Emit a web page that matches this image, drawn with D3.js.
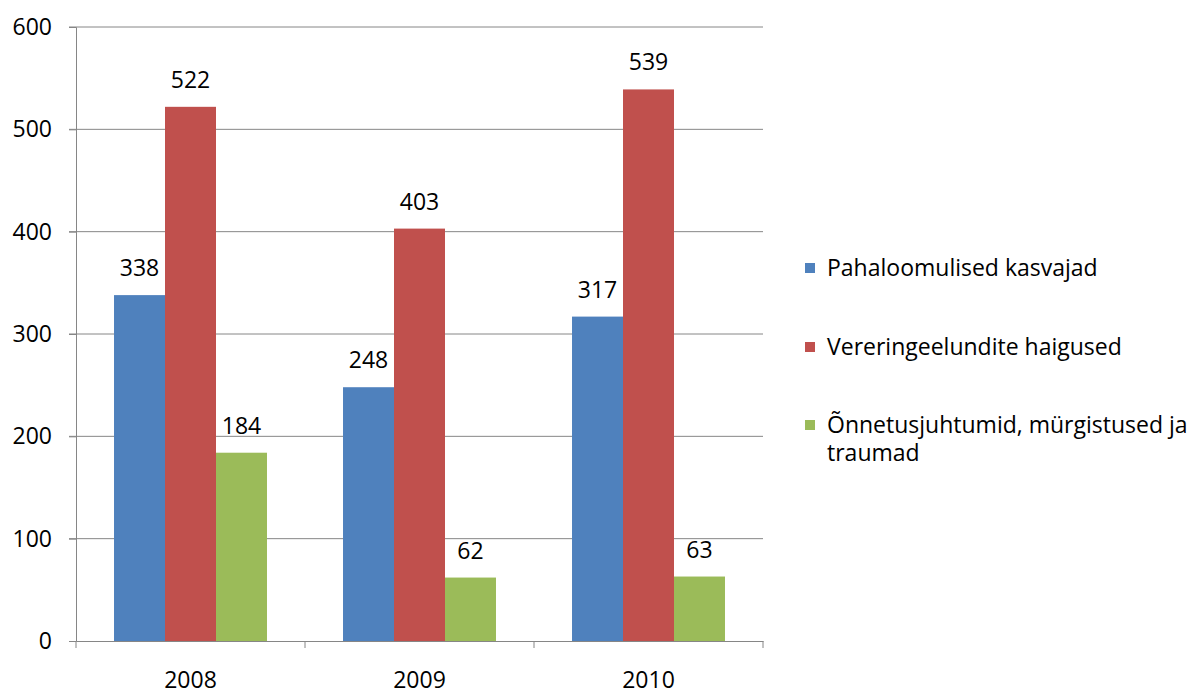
<!DOCTYPE html>
<html>
<head>
<meta charset="utf-8">
<script src="https://cdn.jsdelivr.net/npm/d3@7"></script>
<style>
body { margin: 0; background: #fff; }
svg { display: block; font-family: "Open Sans", sans-serif; }
</style>
</head>
<body>
<script>
var years = ["2008", "2009", "2010"];
var seriesNames = ["Pahaloomulised kasvajad", "Vereringeelundite haigused", "Õnnetusjuhtumid, mürgistused ja traumad"];
var pahaloomulised = [338, 248, 317];
var vereringe = [522, 403, 539];
var onnetused = [184, 62, 63];
var yTicks = [0, 100, 200, 300, 400, 500, 600];
var colors = ["#4f81bd", "#c0504d", "#9bbb59"];

var seriesValues = [pahaloomulised, vereringe, onnetused];
var width = 1191, height = 692;
var margin = { top: 27, left: 76, right: 428, bottom: 51 };
var plotW = width - margin.left - margin.right;
var plotH = height - margin.top - margin.bottom;
var fs = 23;

var svg = d3.select("body").append("svg")
	.attr("width", width)
	.attr("height", height);

var g = svg.append("g")
	.attr("transform", "translate(" + margin.left + "," + margin.top + ")");

var x0 = d3.scaleBand().domain(years).range([0, plotW]).padding(0);
var gap = x0.bandwidth() * 0.332;
var x1 = d3.scaleBand().domain(d3.range(seriesNames.length))
	.range([gap / 2, x0.bandwidth() - gap / 2]).padding(0);
var y = d3.scaleLinear().domain([0, 600]).range([plotH, 0]);

// gridlines
g.selectAll(".grid")
	.data(yTicks.slice(1))
	.enter().append("line")
	.attr("x1", -7).attr("x2", plotW)
	.attr("y1", function (d) { return y(d); })
	.attr("y2", function (d) { return y(d); })
	.attr("stroke", "#868686").attr("stroke-width", 1);

// y axis
var yAxis = g.append("g")
	.call(d3.axisLeft(y).tickValues(yTicks).tickSize(7).tickPadding(17));
yAxis.select(".domain").attr("stroke", "#868686");
yAxis.selectAll(".tick line").attr("stroke", "#868686");
yAxis.selectAll("text").attr("font-size", fs).attr("fill", "#000")
	.attr("font-family", "Open Sans");

// bars
var groups = g.selectAll(".year")
	.data(years)
	.enter().append("g")
	.attr("transform", function (d) { return "translate(" + x0(d) + ",0)"; });

groups.selectAll("rect")
	.data(function (d, i) { return seriesValues.map(function (s, k) { return { k: k, v: s[i] }; }); })
	.enter().append("rect")
	.attr("x", function (d) { return x1(d.k); })
	.attr("width", x1.bandwidth())
	.attr("y", function (d) { return y(d.v); })
	.attr("height", function (d) { return plotH - y(d.v); })
	.attr("fill", function (d) { return colors[d.k]; });

groups.selectAll(".lbl")
	.data(function (d, i) { return seriesValues.map(function (s, k) { return { k: k, v: s[i] }; }); })
	.enter().append("text")
	.attr("class", "lbl")
	.attr("x", function (d) { return x1(d.k) + x1.bandwidth() / 2; })
	.attr("y", function (d) { return y(d.v) - 19; })
	.attr("text-anchor", "middle")
	.attr("font-size", fs)
	.attr("fill", "#000")
	.text(function (d) { return d.v; });

// x axis
var xAxis = g.append("g")
	.attr("transform", "translate(0," + plotH + ")")
	.call(d3.axisBottom(x0).tickSize(0).tickPadding(31));
xAxis.select(".domain").attr("stroke", "#868686");
xAxis.selectAll("text").attr("font-size", fs).attr("fill", "#000")
	.attr("font-family", "Open Sans");
xAxis.selectAll(".sep")
	.data(d3.range(years.length + 1))
	.enter().append("line")
	.attr("x1", function (i) { return i * x0.bandwidth(); })
	.attr("x2", function (i) { return i * x0.bandwidth(); })
	.attr("y1", 0).attr("y2", 7)
	.attr("stroke", "#868686");

// legend
var legend = svg.append("g").attr("transform", "translate(805,0)");
var legendY = [268, 347, 425];
var legendLines = [["Pahaloomulised kasvajad"], ["Vereringeelundite haigused"], ["Õnnetusjuhtumid, mürgistused ja", "traumad"]];
legendLines.forEach(function (lines, i) {
	legend.append("rect")
		.attr("x", 0).attr("y", legendY[i] - 5)
		.attr("width", 10).attr("height", 10)
		.attr("fill", colors[i]);
	lines.forEach(function (t, j) {
		legend.append("text")
			.attr("x", 22).attr("y", legendY[i] + 8 + j * 28)
			.attr("font-size", fs)
			.attr("fill", "#000")
			.text(t);
	});
});
</script>
</body>
</html>
